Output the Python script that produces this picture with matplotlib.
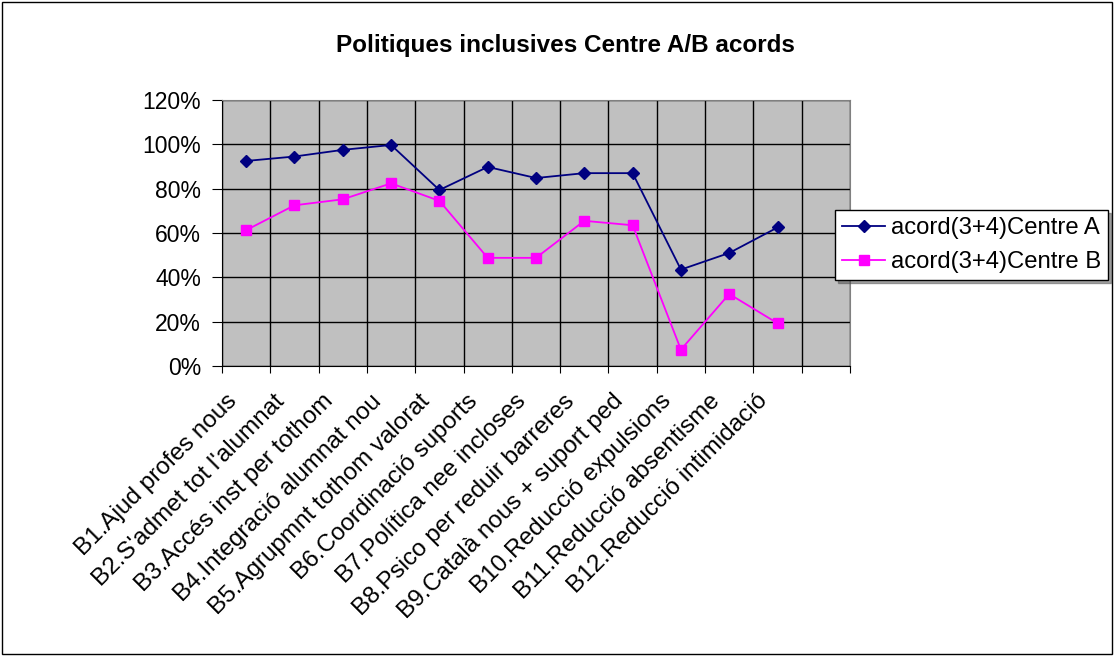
import matplotlib.pyplot as plt
import matplotlib.transforms as mtransforms
from matplotlib.patches import Rectangle
import numpy as np

plt.rcParams['font.family'] = ['Liberation Sans', 'DejaVu Sans']

categories = ["B1.Ajud profes nous", "B2.S'admet tot l'alumnat", "B3.Accés inst per tothom",
              "B4.Integració alumnat nou", "B5.Agrupmnt tothom valorat", "B6.Coordinació suports",
              "B7.Política nee incloses", "B8.Psico per reduir barreres", "B9.Català nous + suport ped",
              "B10.Reducció expulsions", "B11.Reducció absentisme", "B12.Reducció intimidació"]
centre_a = [92.5, 94.5, 97.5, 99.7, 79.4, 89.8, 84.8, 87.0, 87.0, 43.5, 51.0, 62.5]
centre_b = [61.3, 72.5, 75.2, 82.4, 74.5, 48.8, 48.8, 65.5, 63.5, 7.4, 32.5, 19.3]
y_ticks = [0, 20, 40, 60, 80, 100, 120]

fig = plt.figure(figsize=(11.14, 6.56), dpi=100)
ax = fig.add_axes([0.1993, 0.442, 0.5637, 0.4056])
ax.set_facecolor('#C0C0C0')

x = np.arange(len(categories))
ax.plot(x, centre_a, color='#000080', marker='D', markersize=6, lw=1.3,
        label='acord(3+4)Centre A', zorder=3)
ax.plot(x, centre_b, color='#FF00FF', marker='s', markersize=6.5, lw=1.3,
        label='acord(3+4)Centre B', zorder=3)

# 13 category slots, last one empty
ax.set_xlim(-0.5, len(categories) + 0.5)
ax.set_ylim(0, 120)
ax.set_xticks(np.arange(-0.5, len(categories) + 1, 1))
ax.set_xticklabels([])
ax.set_xticks(x, minor=True)
ax.set_xticklabels(categories, minor=True, rotation=45, ha='right', va='center',
                   rotation_mode='anchor', fontsize=17.5)
ax.tick_params(axis='x', which='minor', length=0, pad=20)
ax.tick_params(axis='x', which='major', length=5, direction='out', color='black')
shift = mtransforms.ScaledTranslation(-0.13, -0.04, fig.dpi_scale_trans)
for lbl in ax.get_xticklabels(minor=True):
    lbl.set_transform(lbl.get_transform() + shift)
ax.set_yticks(y_ticks)
ax.set_yticklabels([f'{v}%' for v in y_ticks], fontsize=16.5)
ax.tick_params(axis='y', length=7, direction='out', pad=8)

ax.grid(True, which='major', color='black', lw=1)
ax.set_axisbelow(True)
for s in ['top', 'right']:
    ax.spines[s].set_color('#808080')
for s in ['left', 'bottom']:
    ax.spines[s].set_color('black')

fig.text(0.508, 0.931, 'Politiques inclusives Centre A/B acords', ha='center', va='center',
         fontsize=17.5, fontweight='bold')

leg = fig.legend(loc='upper left', bbox_to_anchor=(0.7495, 0.68), fontsize=17.2,
                 frameon=True, fancybox=False, shadow=True, borderpad=0.3,
                 handlelength=1.8, handletextpad=0.25, labelspacing=0.5, borderaxespad=0)
leg.get_frame().set_edgecolor('black')
leg.get_frame().set_linewidth(1)

fig.patches.append(Rectangle((0.002, 0.003), 0.996, 0.994, transform=fig.transFigure,
                             fill=False, edgecolor='black', lw=1))

fig.savefig('out.png', dpi=100)
